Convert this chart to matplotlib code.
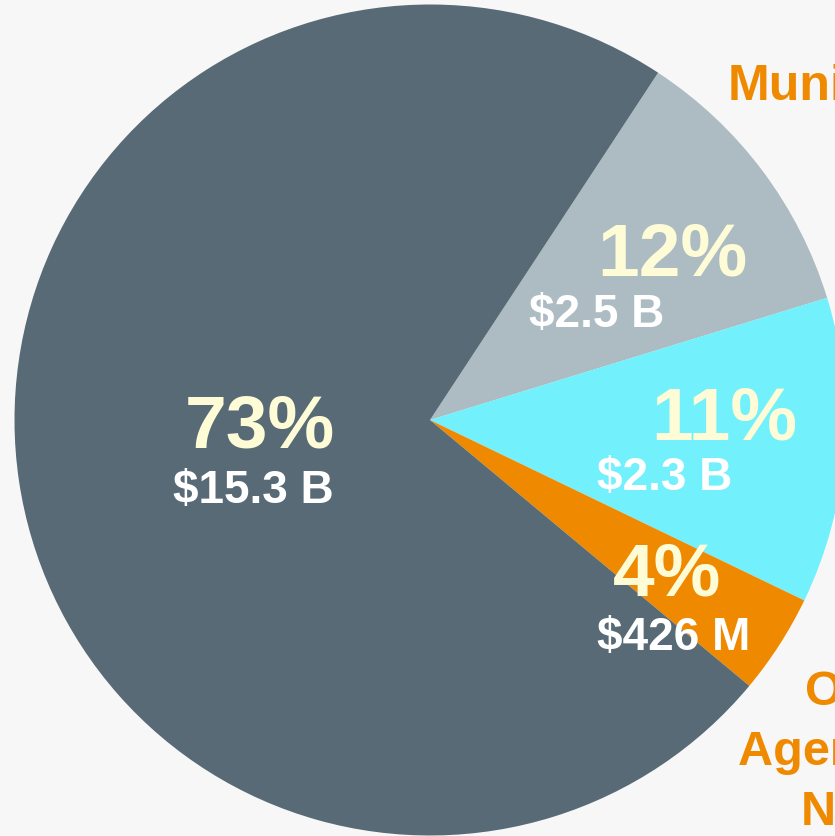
import matplotlib.pyplot as plt

# slice data (clockwise from the top-right edge of the big slice)
shares = [11.0, 11.9, 3.9, 73.2]          # drawn share of the circle, %
pct_labels = ["12%", "11%", "4%", "73%"]
amount_labels = ["$2.5 B", "$2.3 B", "$426 M", "$15.3 B"]
colors = ["#adbcc3", "#72f0fc", "#ef8a00", "#586a75"]

BG = "#f7f7f7"
plt.rcParams['font.family'] = ['Liberation Sans', 'DejaVu Sans']

fig = plt.figure(figsize=(8.35, 8.36), dpi=100, facecolor=BG)
ax = fig.add_axes([0, 0, 1, 1])
ax.set_facecolor(BG)

ax.pie(shares, colors=colors, startangle=56.7, counterclock=False,
       center=(430, 416), radius=415.5, frame=True,
       wedgeprops=dict(linewidth=0))
ax.set_xlim(0, 835)
ax.set_ylim(0, 836)
ax.set_aspect('equal')
ax.axis('off')

# label anchors (centre x, baseline y) for pct and amount text
pct_pos = [(672, 560), (724, 396), (667, 241), (260, 388)]
amt_pos = [(597, 509), (665, 346), (674, 186), (253, 333)]

for (x, y), s in zip(pct_pos, pct_labels):
    ax.text(x, y, s, ha='center', va='baseline', fontsize=54,
            fontweight='bold', color='#fdfcd6')
for (x, y), s in zip(amt_pos, amount_labels):
    ax.text(x, y, s, ha='center', va='baseline', fontsize=33,
            fontweight='bold', color='white')

# outer category labels, running off the right edge as in the source
orange = "#ef8a00"
ax.text(728, 736, "Municipalities", ha='left', va='baseline', fontsize=36,
        fontweight='bold', color=orange, clip_on=False)
for y, s in zip([131, 71, 11], ["Other", "Agencies &", "NGOs"]):
    ax.text(870, y, s, ha='center', va='baseline', fontsize=35,
            fontweight='bold', color=orange, clip_on=False)

fig.savefig("out.png", dpi=100, facecolor=BG)
